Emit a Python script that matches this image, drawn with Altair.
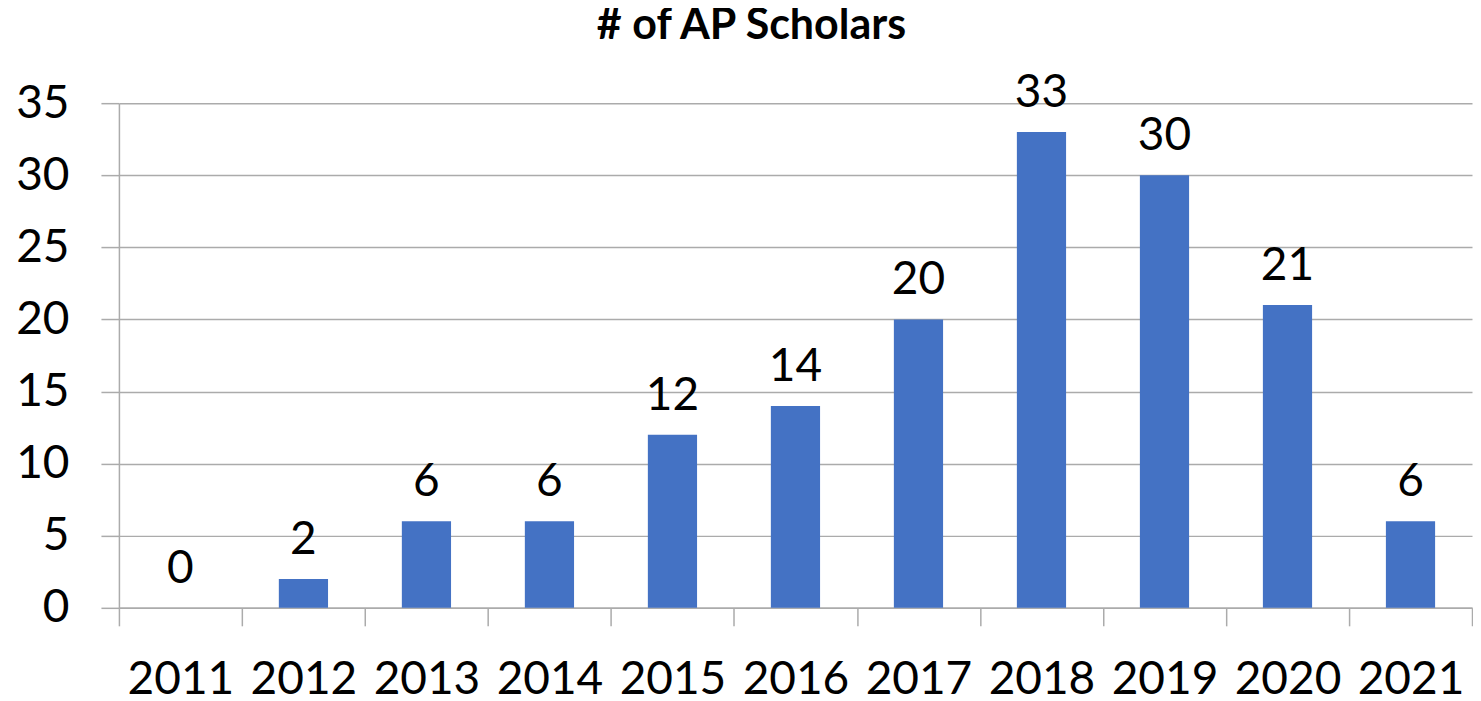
import altair as alt
import pandas as pd

years = ["2011", "2012", "2013", "2014", "2015", "2016", "2017", "2018", "2019", "2020", "2021"]
scholars = [0, 2, 6, 6, 12, 14, 20, 33, 30, 21, 6]
y_ticks = [0, 5, 10, 15, 20, 25, 30, 35]

df = pd.DataFrame({"year": years, "n": scholars})

GRID = "#ababab"
FONT = "Lato"

x_enc = alt.X(
    "year:O",
    sort=years,
    scale=alt.Scale(paddingInner=0, paddingOuter=0),
    axis=alt.Axis(
        title=None, labelAngle=0, tickBand="extent", tickSize=18, tickWidth=1.5,
        tickColor=GRID, domainColor=GRID, domainWidth=1.5, labelFontSize=46,
        labelFont=FONT, labelColor="black", labelPadding=32, grid=False,
    ),
)
y_enc = alt.Y(
    "n:Q",
    scale=alt.Scale(domain=[0, 35]),
    axis=alt.Axis(
        title=None, values=y_ticks, tickSize=18, tickWidth=1.5, tickColor=GRID,
        domainColor=GRID, domainWidth=1.5, grid=True, gridColor=GRID, gridWidth=1.5,
        labelFontSize=46, labelFont=FONT, labelColor="black", labelPadding=32,
    ),
)

bars = alt.Chart(df).mark_bar(color="#4472C4", width={"band": 0.4}).encode(x=x_enc, y=y_enc)
labels = alt.Chart(df).mark_text(
    dy=-25, baseline="alphabetic", fontSize=46, font=FONT, color="black"
).encode(x=alt.X("year:O", sort=years), y="n:Q", text="n:Q")

chart = (
    alt.layer(bars, labels)
    .properties(
        width=1354,
        height=505,
        padding={"left": 7, "top": -4, "right": 0, "bottom": -4},
        title=alt.TitleParams(
            "# of AP Scholars", fontSize=43, font=FONT, fontWeight="bold",
            color="black", anchor="middle", dx=-44, offset=22,
        ),
    )
    .configure_view(stroke=None)
)

chart.save("out.html", embed_options={"renderer": "svg", "actions": False})
